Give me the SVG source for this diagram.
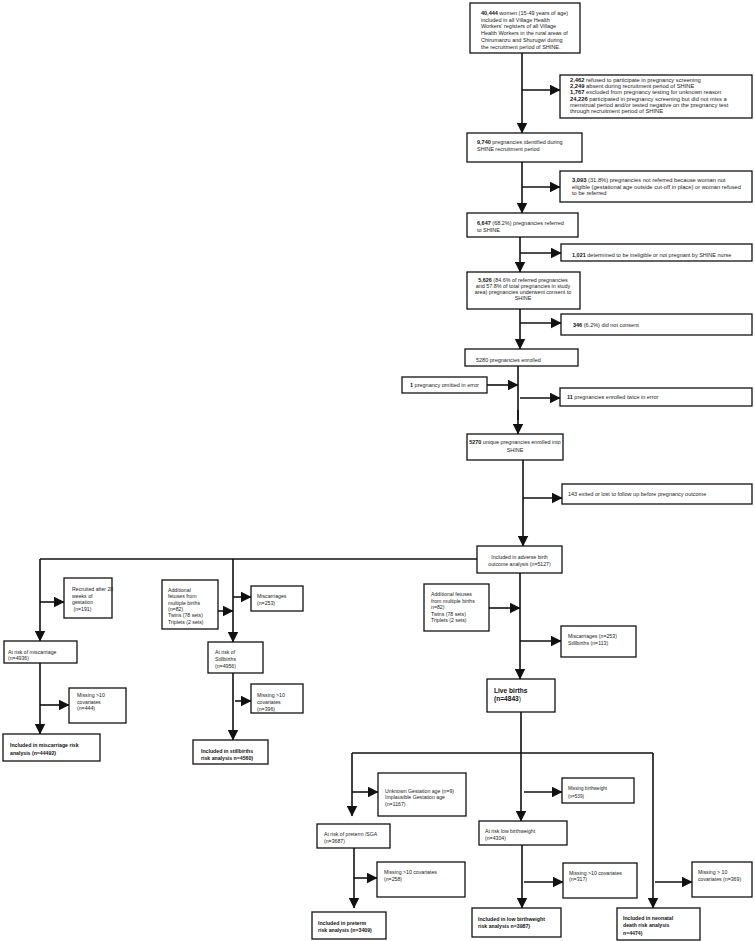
<svg xmlns="http://www.w3.org/2000/svg" width="755" height="941" viewBox="0 0 755 941">
<style>
.box{fill:#fff;stroke:#111;stroke-width:1.3}
.t{font-family:"Liberation Sans",Arial,sans-serif;font-size:5.2px;fill:#222}
.u{font-size:5.5px}
.w{font-size:5.75px}
.b{font-weight:bold;fill:#111}
.c{text-anchor:middle}
.ln{stroke:#111;stroke-width:1.6;fill:none}
.ar{stroke:#111;stroke-width:1.6;fill:none;marker-end:url(#ah)}
</style>
<defs>
<marker id="ah" viewBox="0 0 10 10" refX="9.5" refY="5" markerWidth="11" markerHeight="11" markerUnits="userSpaceOnUse" orient="auto">
<path d="M0,0 L10,5 L0,10 z" fill="#111"/>
</marker>
</defs>
<rect width="755" height="941" fill="#fff"/>

<g id="connectors">
<path class="ar" d="M522,53 V133"/>
<path class="ar" d="M522,90 H560"/>
<path class="ar" d="M522,162 V213"/>
<path class="ar" d="M522,187 H560"/>
<path class="ar" d="M520,237 V272"/>
<path class="ar" d="M520,253 H561"/>
<path class="ar" d="M520,309 V349"/>
<path class="ar" d="M520,323 H561"/>
<path class="ln" d="M518,366 V420"/>
<path class="ar" d="M487,385 H518"/>
<path class="ar" d="M520,398 H560"/>
<path class="ar" d="M518,410 V434"/>
<path class="ar" d="M523,460 V546"/>
<path class="ar" d="M523,498 H562"/>
<path class="ln" d="M477,559 H40"/>
<path class="ar" d="M40,559 V641"/>
<path class="ar" d="M40,602 H64"/>
<path class="ar" d="M40,663 V734"/>
<path class="ar" d="M40,705 H69"/>
<path class="ar" d="M233,559 V642"/>
<path class="ar" d="M218,611 H233"/>
<path class="ar" d="M233,597 H251"/>
<path class="ar" d="M233,673 V740"/>
<path class="ar" d="M235,701 H251"/>
<path class="ar" d="M520,573 V679"/>
<path class="ar" d="M489,608 H520"/>
<path class="ar" d="M520,641 H561"/>
<path class="ln" d="M521,712 V753 M352,753 H653"/>
<path class="ar" d="M352,753 V816"/>
<path class="ar" d="M352,792 H378"/>
<path class="ar" d="M354,848 V908"/>
<path class="ar" d="M354,878 H377"/>
<path class="ar" d="M521,753 V821"/>
<path class="ar" d="M524,792 H562"/>
<path class="ar" d="M522,845 V908"/>
<path class="ar" d="M524,882 H563"/>
<path class="ar" d="M653,753 V908"/>
<path class="ar" d="M655,882 H692"/>
</g>

<g id="n-women">
<rect class="box" x="470" y="3" width="110" height="50"/>
<text class="t u" x="481" y="14.8"><tspan class="b">40,444</tspan> women (15-49 years of age)<tspan x="481" dy="6.8">included in all Village Health</tspan><tspan x="481" dy="6.8">Workers' registers of all Village</tspan><tspan x="481" dy="6.8">Health Workers in the rural areas of</tspan><tspan x="481" dy="6.8">Chirumanzu and Shurugwi during</tspan><tspan x="481" dy="6.8">the recruitment period of SHINE.</tspan></text>
</g>
<g id="n-excl1">
<rect class="box" x="560" y="75" width="192" height="43"/>
<text class="t w" x="570" y="82"><tspan class="b">2,462</tspan> refused to participate in pregnancy screening<tspan x="570" dy="6"><tspan class="b">2,249</tspan> absent during recruitment period of SHINE</tspan><tspan x="570" dy="6"><tspan class="b">1,767</tspan> excluded from pregnancy testing for unknown reason</tspan><tspan x="570" dy="6.5"><tspan class="b">24,226</tspan> participated in pregnancy screening but did not miss a</tspan><tspan x="570" dy="6">menstrual period and/or tested negative  on the pregnancy test</tspan><tspan x="570" dy="6">through recruitment period of SHINE</tspan></text>
</g>
<g id="n-identified">
<rect class="box" x="467" y="133" width="115" height="29"/>
<text class="t u" x="477" y="143.5"><tspan class="b">9,740</tspan> pregnancies identified during<tspan x="477" dy="7.5">SHINE recruitment period</tspan></text>
</g>
<g id="n-notref">
<rect class="box" x="560" y="171" width="192" height="31"/>
<text class="t w" x="572" y="182"><tspan class="b">3,093</tspan> (31.8%) pregnancies not referred because woman not<tspan x="572" dy="6.6">eligible (gestational age outside cut-off in place) or woman refused</tspan><tspan x="572" dy="6.6">to be referred</tspan></text>
</g>
<g id="n-referred">
<rect class="box" x="467" y="213" width="111" height="24"/>
<text class="t u" x="477" y="225"><tspan class="b">6,647</tspan> (68.2%) pregnancies referred<tspan x="477" dy="6.5">to SHINE</tspan></text>
</g>
<g id="n-inelig">
<rect class="box" x="561" y="244" width="191" height="17"/>
<text class="t u" x="572" y="256.5"><tspan class="b">1,021</tspan> determined to be ineligible or not pregnant by SHINE nurse</text>
</g>
<g id="n-consent">
<rect class="box" x="467" y="272" width="113" height="37"/>
<text class="t c" x="523" y="282" style="font-size:5.4px"><tspan class="b">5,626</tspan> (84.6% of referred pregnancies<tspan x="523" dy="6">and 57.8% of total pregnancies in study</tspan><tspan x="523" dy="6">area) pregnancies underwent consent to</tspan><tspan x="523" dy="6">SHINE</tspan></text>
</g>
<g id="n-noconsent">
<rect class="box" x="561" y="314" width="191" height="21"/>
<text class="t u" x="573" y="327"><tspan class="b">346</tspan> (6.2%) did not consent</text>
</g>
<g id="n-enrolled">
<rect class="box" x="465" y="349" width="113" height="17"/>
<text class="t u" x="476" y="361.5">5280 pregnancies enrolled</text>
</g>
<g id="n-omitted">
<rect class="box" x="402" y="377" width="85" height="16"/>
<text class="t u" x="410" y="386.5"><tspan class="b">1</tspan> pregnancy omitted in error</text>
</g>
<g id="n-twice">
<rect class="box" x="560" y="388" width="192" height="18"/>
<text class="t u" x="567" y="399"><tspan class="b">11</tspan> pregnancies enrolled twice in error</text>
</g>
<g id="n-unique">
<rect class="box" x="467" y="434" width="96" height="26"/>
<text class="t c" x="515" y="444" style="font-size:5.4px"><tspan class="b">5270</tspan> unique pregnancies enrolled into<tspan x="515" dy="8">SHINE</tspan></text>
</g>
<g id="n-exited">
<rect class="box" x="562" y="484" width="190" height="20"/>
<text class="t u" x="568" y="496">143 exited or lost to follow up before pregnancy outcome</text>
</g>
<g id="n-adverse">
<rect class="box" x="477" y="546" width="85" height="27"/>
<text class="t c" x="519.5" y="558.5">Included in adverse birth<tspan x="519.5" dy="7.5">outcome analysis (n=5127)</tspan></text>
</g>

<g id="n-recruited28">
<rect class="box" x="64" y="578" width="48" height="40"/>
<text class="t" x="72" y="591">Recruited after 28<tspan x="72" dy="6.5">weeks of</tspan><tspan x="72" dy="6.5">gestation</tspan><tspan x="72" dy="7"> (n=191)</tspan></text>
</g>
<g id="n-riskmisc">
<rect class="box" x="4" y="641" width="73" height="22"/>
<text class="t" x="8" y="653.5">At risk of miscarriage<tspan x="8" dy="6">(n=4936)</tspan></text>
</g>
<g id="n-miss444">
<rect class="box" x="69" y="688" width="57" height="35"/>
<text class="t" x="77" y="697">Missing &gt;10<tspan x="77" dy="6.5">covariates</tspan><tspan x="77" dy="6.5">(n=444)</tspan></text>
</g>
<g id="n-inclmisc">
<rect class="box" x="3" y="734" width="97" height="27"/>
<text class="t b" x="10" y="747">Included in miscarriage risk<tspan x="10" dy="7.5">analysis  (n=44492)</tspan></text>
</g>
<g id="n-addl1">
<rect class="box" x="162" y="580" width="56" height="49"/>
<text class="t" x="168" y="592">Additional<tspan x="168" dy="6.3">fetuses from</tspan><tspan x="168" dy="6.3">multiple births</tspan><tspan x="168" dy="6.3">(n=82)</tspan><tspan x="168" dy="6.3">Twins (78 sets)</tspan><tspan x="168" dy="6.3">Triplets (2 sets)</tspan></text>
</g>
<g id="n-misc253">
<rect class="box" x="251" y="586" width="52" height="25"/>
<text class="t" x="257" y="598">Miscarriages<tspan x="257" dy="6.5">(n=253)</tspan></text>
</g>
<g id="n-riskstill">
<rect class="box" x="208" y="642" width="55" height="31"/>
<text class="t" x="215" y="654">At risk of<tspan x="215" dy="7">Stillbirths</tspan><tspan x="215" dy="7">(n=4956)</tspan></text>
</g>
<g id="n-miss396">
<rect class="box" x="251" y="684" width="52" height="29"/>
<text class="t" x="257" y="697">Missing &gt;10<tspan x="257" dy="6.8">covariates</tspan><tspan x="257" dy="6.8">(n=396)</tspan></text>
</g>
<g id="n-inclstill">
<rect class="box" x="193" y="740" width="75" height="24"/>
<text class="t b" x="201" y="752.5">Included in stillbirths<tspan x="201" dy="7.5">risk analysis  n=4560)</tspan></text>
</g>

<g id="n-addl2">
<rect class="box" x="424" y="584" width="65" height="47"/>
<text class="t" x="431" y="596">Additional fetuses<tspan x="431" dy="6.6">from multiple births</tspan><tspan x="431" dy="6.6">n=82)</tspan><tspan x="431" dy="6.6">Twins (78 sets)</tspan><tspan x="431" dy="6.6">Triplets (2 sets)</tspan></text>
</g>
<g id="n-miscstill">
<rect class="box" x="561" y="626" width="75" height="31"/>
<text class="t" x="568" y="638">Miscarriages (n=253)<tspan x="568" dy="6.6">Stillbirths (n=113)</tspan></text>
</g>
<g id="n-live">
<rect class="box" x="487" y="679" width="68" height="33"/>
<text class="t b" x="494" y="693" style="font-size:6.6px">Live births<tspan x="494" dy="8">(n=4843</tspan><tspan style="font-weight:normal">)</tspan></text>
</g>

<g id="n-unknownga">
<rect class="box" x="378" y="773" width="88" height="43"/>
<text class="t" x="385" y="792.5">Unknown Gestation age (n=9)<tspan x="385" dy="6.7">Implausible Gestation age</tspan><tspan x="385" dy="6.7">(n=1167)</tspan></text>
</g>
<g id="n-riskpre">
<rect class="box" x="317" y="824" width="73" height="24"/>
<text class="t" x="324" y="836">At risk of preterm /SGA<tspan x="324" dy="7">(n=3687)</tspan></text>
</g>
<g id="n-miss258">
<rect class="box" x="377" y="862" width="88" height="35"/>
<text class="t" x="384" y="874">Missing &gt;10 covariates<tspan x="384" dy="7">(n=258)</tspan></text>
</g>
<g id="n-inclpre">
<rect class="box" x="312" y="912" width="74" height="27"/>
<text class="t b" x="318" y="924.5">Included in preterm<tspan x="318" dy="7.5">risk analysis  (n=3409)</tspan></text>
</g>
<g id="n-missbw">
<rect class="box" x="562" y="778" width="72" height="25"/>
<text class="t" x="568" y="790" style="font-size:4.6px">Missing birthweight<tspan x="568" dy="7.5">(n=539)</tspan></text>
</g>
<g id="n-risklbw">
<rect class="box" x="479" y="821" width="88" height="24"/>
<text class="t" x="485" y="832.5">At risk low birthweight<tspan x="485" dy="7">(n=4304)</tspan></text>
</g>
<g id="n-miss317">
<rect class="box" x="563" y="863" width="74" height="35"/>
<text class="t" x="569" y="874.5">Missing &gt;10 covariates<tspan x="569" dy="6.7">(n=317)</tspan></text>
</g>
<g id="n-incllbw">
<rect class="box" x="472" y="908" width="89" height="29"/>
<text class="t b" x="478" y="921">Included in low birthweight<tspan x="478" dy="7">risk analysis  n=3987)</tspan></text>
</g>
<g id="n-miss369">
<rect class="box" x="692" y="862" width="60" height="35"/>
<text class="t" x="698" y="873.5">Missing &gt; 10<tspan x="698" dy="7">covariates (n=369)</tspan></text>
</g>
<g id="n-inclneo">
<rect class="box" x="617" y="908" width="83" height="32"/>
<text class="t b" x="623" y="920">Included in neonatal<tspan x="623" dy="7.3">death risk analysis</tspan><tspan x="623" dy="7.3">n=4474)</tspan></text>
</g>
</svg>
